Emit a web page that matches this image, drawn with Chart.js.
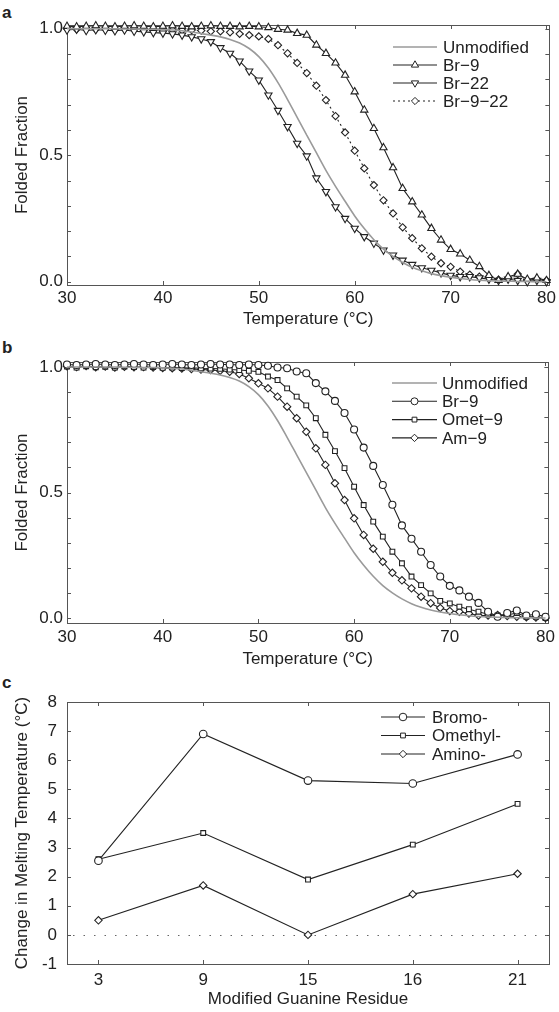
<!DOCTYPE html>
<html>
<head>
<meta charset="utf-8">
<script src="https://cdn.jsdelivr.net/npm/chart.js@4.4.1/dist/chart.umd.min.js"></script>
<style>
    body { margin: 0; background: #fff; }
    #wrap { position: relative; width: 559px; height: 1012px; font-family: "Liberation Sans", Arial, sans-serif; }
    #wrap canvas { position: absolute; left: 0; }
    .tag { position: absolute; left: 2px; font-size: 17px; font-weight: bold; line-height: 17px; color: #222; }
</style>
</head>
<body>
<div id="wrap">
    <div class="tag" style="top:4px">a</div>
    <div class="tag" style="top:339px">b</div>
    <div class="tag" style="top:674px">c</div>
    <canvas id="chartA" width="559" height="330" style="top:0px"></canvas>
    <canvas id="chartB" width="559" height="340" style="top:330px"></canvas>
    <canvas id="chartC" width="559" height="342" style="top:670px"></canvas>
</div>
<script>
// temperatures (°C), one reading per degree
const temps = [30, 31, 32, 33, 34, 35, 36, 37, 38, 39, 40, 41, 42, 43, 44, 45, 46, 47, 48, 49, 50,
    51, 52, 53, 54, 55, 56, 57, 58, 59, 60, 61, 62, 63, 64, 65, 66, 67, 68, 69, 70,
    71, 72, 73, 74, 75, 76, 77, 78, 79, 80];

const unmodified = [1.000, 1.000, 1.000, 1.000, 1.000, 1.000, 0.999, 0.999, 0.998, 0.998, 0.997,
    0.995, 0.992, 0.987, 0.981, 0.975, 0.968, 0.958, 0.944, 0.922, 0.890,
    0.845, 0.787, 0.720, 0.650, 0.580, 0.510, 0.440, 0.377, 0.318, 0.260,
    0.210, 0.166, 0.129, 0.100, 0.076, 0.057, 0.043, 0.032, 0.024, 0.018,
    0.013, 0.009, 0.006, 0.004, 0.003, 0.002, 0.001, 0.001, 0.000, 0.000];

const br9 = [1.010, 1.008, 1.010, 1.012, 1.010, 1.008, 1.010, 1.012, 1.010, 1.008, 1.010,
    1.012, 1.010, 1.008, 1.010, 1.012, 1.010, 1.010, 1.008, 1.010, 1.008,
    1.005, 0.998, 0.995, 0.982, 0.975, 0.936, 0.903, 0.865, 0.817, 0.751,
    0.679, 0.606, 0.530, 0.451, 0.369, 0.316, 0.264, 0.211, 0.165, 0.128,
    0.110, 0.085, 0.060, 0.025, 0.005, 0.020, 0.030, 0.010, 0.015, 0.005];

const br22 = [0.995, 0.998, 0.993, 0.996, 0.994, 0.992, 0.995, 0.990, 0.988, 0.985, 0.983,
    0.980, 0.975, 0.968, 0.960, 0.949, 0.925, 0.903, 0.872, 0.833, 0.797,
    0.738, 0.677, 0.613, 0.547, 0.497, 0.410, 0.356, 0.296, 0.250, 0.211,
    0.178, 0.152, 0.125, 0.105, 0.085, 0.068, 0.055, 0.045, 0.035, 0.025,
    0.020, 0.020, 0.015, 0.010, 0.005, 0.010, 0.005, 0.000, 0.005, 0.000];

const br9_22 = [1.000, 0.998, 1.002, 0.998, 1.000, 0.997, 1.000, 0.998, 0.996, 0.998, 0.995,
    0.996, 0.994, 0.995, 0.993, 0.990, 0.990, 0.986, 0.980, 0.975, 0.970,
    0.960, 0.935, 0.903, 0.865, 0.825, 0.775, 0.718, 0.655, 0.590, 0.518,
    0.448, 0.382, 0.322, 0.270, 0.215, 0.172, 0.132, 0.099, 0.073, 0.059,
    0.040, 0.028, 0.020, 0.020, 0.008, 0.012, 0.030, 0.005, 0.010, 0.005];

const omet9 = [1.002, 0.998, 1.003, 0.999, 1.001, 0.998, 1.002, 1.000, 0.998, 1.000, 0.997,
    0.998, 0.996, 0.997, 0.995, 0.994, 0.993, 0.990, 0.988, 0.985, 0.981,
    0.962, 0.948, 0.915, 0.882, 0.847, 0.796, 0.730, 0.665, 0.597, 0.523,
    0.450, 0.384, 0.324, 0.264, 0.218, 0.165, 0.131, 0.098, 0.068, 0.058,
    0.045, 0.035, 0.025, 0.015, 0.010, 0.012, 0.020, 0.005, 0.005, 0.000];

const am9 = [1.003, 1.000, 1.004, 0.999, 1.002, 0.998, 1.001, 0.999, 1.000, 0.998, 0.996,
    0.995, 0.994, 0.992, 0.990, 0.988, 0.985, 0.981, 0.972, 0.955, 0.935,
    0.915, 0.882, 0.842, 0.796, 0.742, 0.676, 0.610, 0.537, 0.470, 0.397,
    0.331, 0.276, 0.224, 0.180, 0.150, 0.118, 0.085, 0.059, 0.040, 0.028,
    0.025, 0.018, 0.010, 0.010, 0.012, 0.008, 0.005, 0.003, 0.002, 0.000];

// panel c: change in melting temperature per modified residue
const residues = ['3', '9', '15', '16', '21'];
const residuePos = [1, 2, 3, 4, 5];
const bromo = [2.55, 6.9, 5.3, 5.2, 6.2];
const omethyl = [2.6, 3.5, 1.9, 3.1, 4.5];
const amino = [0.5, 1.7, 0.0, 1.4, 2.1];

// tick labels
const tempTicks = [30, 40, 50, 60, 70, 80];
const fracTicks = [0, 0.1, 0.2, 0.3, 0.4, 0.5, 0.6, 0.7, 0.8, 0.9, 1.0];
const fracLabels = [0, 0.5, 1.0];
const dtmTicks = [-1, 0, 1, 2, 3, 4, 5, 6, 7, 8];

const FONT = '"Liberation Sans", Arial, sans-serif';
const FSIZE = 17;
const INK = '#222';
const GREY = '#9a9a9a';

// box round the plot area with MATLAB style inward ticks
const framePlugin = {
    id: 'frame',
    beforeDatasetsDraw(chart) {
        const { ctx, chartArea: a, scales } = chart;
        const len = 4;
        ctx.save();
        ctx.strokeStyle = '#555';
        ctx.lineWidth = 1;
        ctx.strokeRect(Math.round(a.left) + 0.5, Math.round(a.top) + 0.5,
            Math.round(a.right - a.left), Math.round(a.bottom - a.top));
        ctx.beginPath();
        scales.x.ticks.forEach(t => {
            const px = Math.round(scales.x.getPixelForValue(t.value)) + 0.5;
            ctx.moveTo(px, a.bottom); ctx.lineTo(px, a.bottom - len);
            ctx.moveTo(px, a.top); ctx.lineTo(px, a.top + len);
        });
        scales.y.ticks.forEach(t => {
            const py = Math.round(scales.y.getPixelForValue(t.value)) + 0.5;
            ctx.moveTo(a.left, py); ctx.lineTo(a.left + len, py);
            ctx.moveTo(a.right, py); ctx.lineTo(a.right - len, py);
        });
        ctx.stroke();

        // dotted zero line (panel c only)
        const opts = chart.options.plugins.frame || {};
        if (opts.zeroLine) {
            const py = Math.round(scales.y.getPixelForValue(0)) + 0.5;
            ctx.setLineDash([1.5, 9]);
            ctx.strokeStyle = '#666';
            ctx.beginPath();
            ctx.moveTo(a.left + 6, py);
            ctx.lineTo(a.right, py);
            ctx.stroke();
        }
        ctx.restore();
    }
};

function drawMarker(ctx, ds, x, y) {
    if (!ds.pointRadius) return;
    const o = { pointStyle: ds.pointStyle, rotation: ds.pointRotation || 0, radius: ds.pointRadius, borderWidth: 1 };
    ctx.fillStyle = '#fff';
    ctx.strokeStyle = ds.pointBorderColor;
    ctx.lineWidth = 1;
    ctx.setLineDash([]);
    if (Chart.helpers && Chart.helpers.drawPoint) {
        Chart.helpers.drawPoint(ctx, o, x, y);
    } else {
        ctx.beginPath();
        ctx.arc(x, y, o.radius, 0, Math.PI * 2);
        ctx.fill();
        ctx.stroke();
    }
}

// legend inside the plot, no box
const insideLegend = {
    id: 'insideLegend',
    afterDatasetsDraw(chart) {
        const opts = chart.options.plugins.insideLegend;
        if (!opts) return;
        const ctx = chart.ctx;
        ctx.save();
        ctx.font = FSIZE + 'px ' + FONT;
        ctx.textBaseline = 'middle';
        chart.data.datasets.forEach((ds, i) => {
            const y = opts.y + i * opts.gap;
            ctx.strokeStyle = ds.borderColor;
            ctx.lineWidth = ds.borderWidth;
            ctx.setLineDash(ds.borderDash || []);
            ctx.beginPath();
            ctx.moveTo(opts.x, y);
            ctx.lineTo(opts.x + opts.len, y);
            ctx.stroke();
            drawMarker(ctx, ds, opts.x + opts.len / 2, y);
            ctx.fillStyle = INK;
            ctx.fillText(ds.label, opts.textX, y + 1);
        });
        ctx.restore();
    }
};

function series(label, xs, ys, style) {
    return Object.assign({
        label: label,
        data: xs.map((x, i) => ({ x: x, y: ys[i] })),
        borderColor: INK,
        borderWidth: 1.1,
        pointBackgroundColor: '#fff',
        pointBorderColor: INK,
        pointBorderWidth: 1.1,
        pointRadius: 3,
        tension: 0,
        clip: false
    }, style);
}

function greyFit(ys) {
    return series('Unmodified', temps, ys, {
        borderColor: GREY, borderWidth: 1.6, pointRadius: 0,
        cubicInterpolationMode: 'monotone'
    });
}

function makeChart(id, datasets, cfg) {
    const tickFont = { family: FONT, size: FSIZE };
    return new Chart(document.getElementById(id), {
        type: 'line',
        data: { datasets: datasets },
        options: {
            responsive: false,
            animation: false,
            events: [],
            layout: { padding: { top: cfg.padTop, right: cfg.padRight, left: 0, bottom: 0 } },
            plugins: {
                legend: { display: false },
                tooltip: { enabled: false },
                frame: { zeroLine: !!cfg.zeroLine },
                insideLegend: cfg.legend
            },
            scales: {
                x: {
                    type: 'linear',
                    min: cfg.xMin,
                    max: cfg.xMax,
                    grid: { display: false, drawTicks: false },
                    border: { display: false },
                    afterBuildTicks: s => { s.ticks = cfg.xTicks.map(v => ({ value: v })); },
                    afterFit: s => { s.height = cfg.xHeight; },
                    ticks: {
                        padding: cfg.xPad,
                        color: INK,
                        font: tickFont,
                        maxRotation: 0,
                        callback: cfg.xLabel
                    },
                    title: {
                        display: true,
                        text: cfg.xTitle,
                        color: INK,
                        font: { family: FONT, size: FSIZE },
                        padding: { top: 0, bottom: cfg.xTitlePad }
                    }
                },
                y: {
                    min: cfg.yMin,
                    max: cfg.yMax,
                    grid: { display: false, drawTicks: false },
                    border: { display: false },
                    afterBuildTicks: s => { s.ticks = cfg.yTicks.map(v => ({ value: v })); },
                    afterFit: s => { s.width = 67; },
                    ticks: {
                        padding: cfg.yPad,
                        color: INK,
                        font: tickFont,
                        callback: cfg.yLabel
                    },
                    title: {
                        display: true,
                        text: cfg.yTitle,
                        color: INK,
                        font: { family: FONT, size: FSIZE },
                        padding: { top: 12, bottom: 0 }
                    }
                }
            }
        },
        plugins: [framePlugin, insideLegend]
    });
}

const fracLabel = v => fracLabels.some(l => Math.abs(l - v) < 1e-6) ? v.toFixed(1) : '';

// panel a
makeChart('chartA', [
    greyFit(unmodified),
    series('Br\u22129', temps, br9, { pointStyle: 'triangle', pointRadius: 4.2 }),
    series('Br\u221222', temps, br22, { pointStyle: 'triangle', pointRotation: 180, pointRadius: 4.2 }),
    series('Br\u22129\u221222', temps, br9_22, { pointStyle: 'rectRot', pointRadius: 3.6, borderDash: [2, 3] })
], {
    padTop: 25, padRight: 9, xHeight: 45, xPad: 3, xTitlePad: 0, yPad: 4,
    xMin: 30, xMax: 80.3, yMin: -0.013, yMax: 1.015,
    xTicks: tempTicks, yTicks: fracTicks,
    yLabel: fracLabel,
    xTitle: 'Temperature (\u00B0C)', yTitle: 'Folded Fraction',
    legend: { x: 393, y: 47, gap: 18, len: 44, textX: 443 }
});

// panel b
makeChart('chartB', [
    greyFit(unmodified),
    series('Br\u22129', temps, br9, { pointStyle: 'circle', pointRadius: 3.5 }),
    series('Omet\u22129', temps, omet9, { pointStyle: 'rect', pointRadius: 3.4 }),
    series('Am\u22129', temps, am9, { pointStyle: 'rectRot', pointRadius: 3.7 })
], {
    padTop: 32, padRight: 9, xHeight: 47, xPad: 4, xTitlePad: 0, yPad: 4,
    xMin: 30, xMax: 80.3, yMin: -0.02, yMax: 1.02,
    xTicks: tempTicks, yTicks: fracTicks,
    yLabel: fracLabel,
    xTitle: 'Temperature (\u00B0C)', yTitle: 'Folded Fraction',
    legend: { x: 392, y: 53, gap: 18.3, len: 45, textX: 442 }
});

// panel c
makeChart('chartC', [
    series('Bromo-', residuePos, bromo, { pointStyle: 'circle', pointRadius: 3.8 }),
    series('Omethyl-', residuePos, omethyl, { pointStyle: 'rect', pointRadius: 3.4 }),
    series('Amino-', residuePos, amino, { pointStyle: 'rectRot', pointRadius: 3.7 })
], {
    padTop: 32, padRight: 10, xHeight: 48, xPad: 6, xTitlePad: 2, yPad: 10,
    xMin: 0.7, xMax: 5.3, yMin: -1, yMax: 8,
    xTicks: residuePos, yTicks: dtmTicks,
    xLabel: v => residues[residuePos.indexOf(v)],
    xTitle: 'Modified Guanine Residue', yTitle: 'Change in Melting Temperature (\u00B0C)',
    zeroLine: true,
    legend: { x: 381, y: 47, gap: 18.5, len: 44, textX: 432 }
});
</script>
</body>
</html>
